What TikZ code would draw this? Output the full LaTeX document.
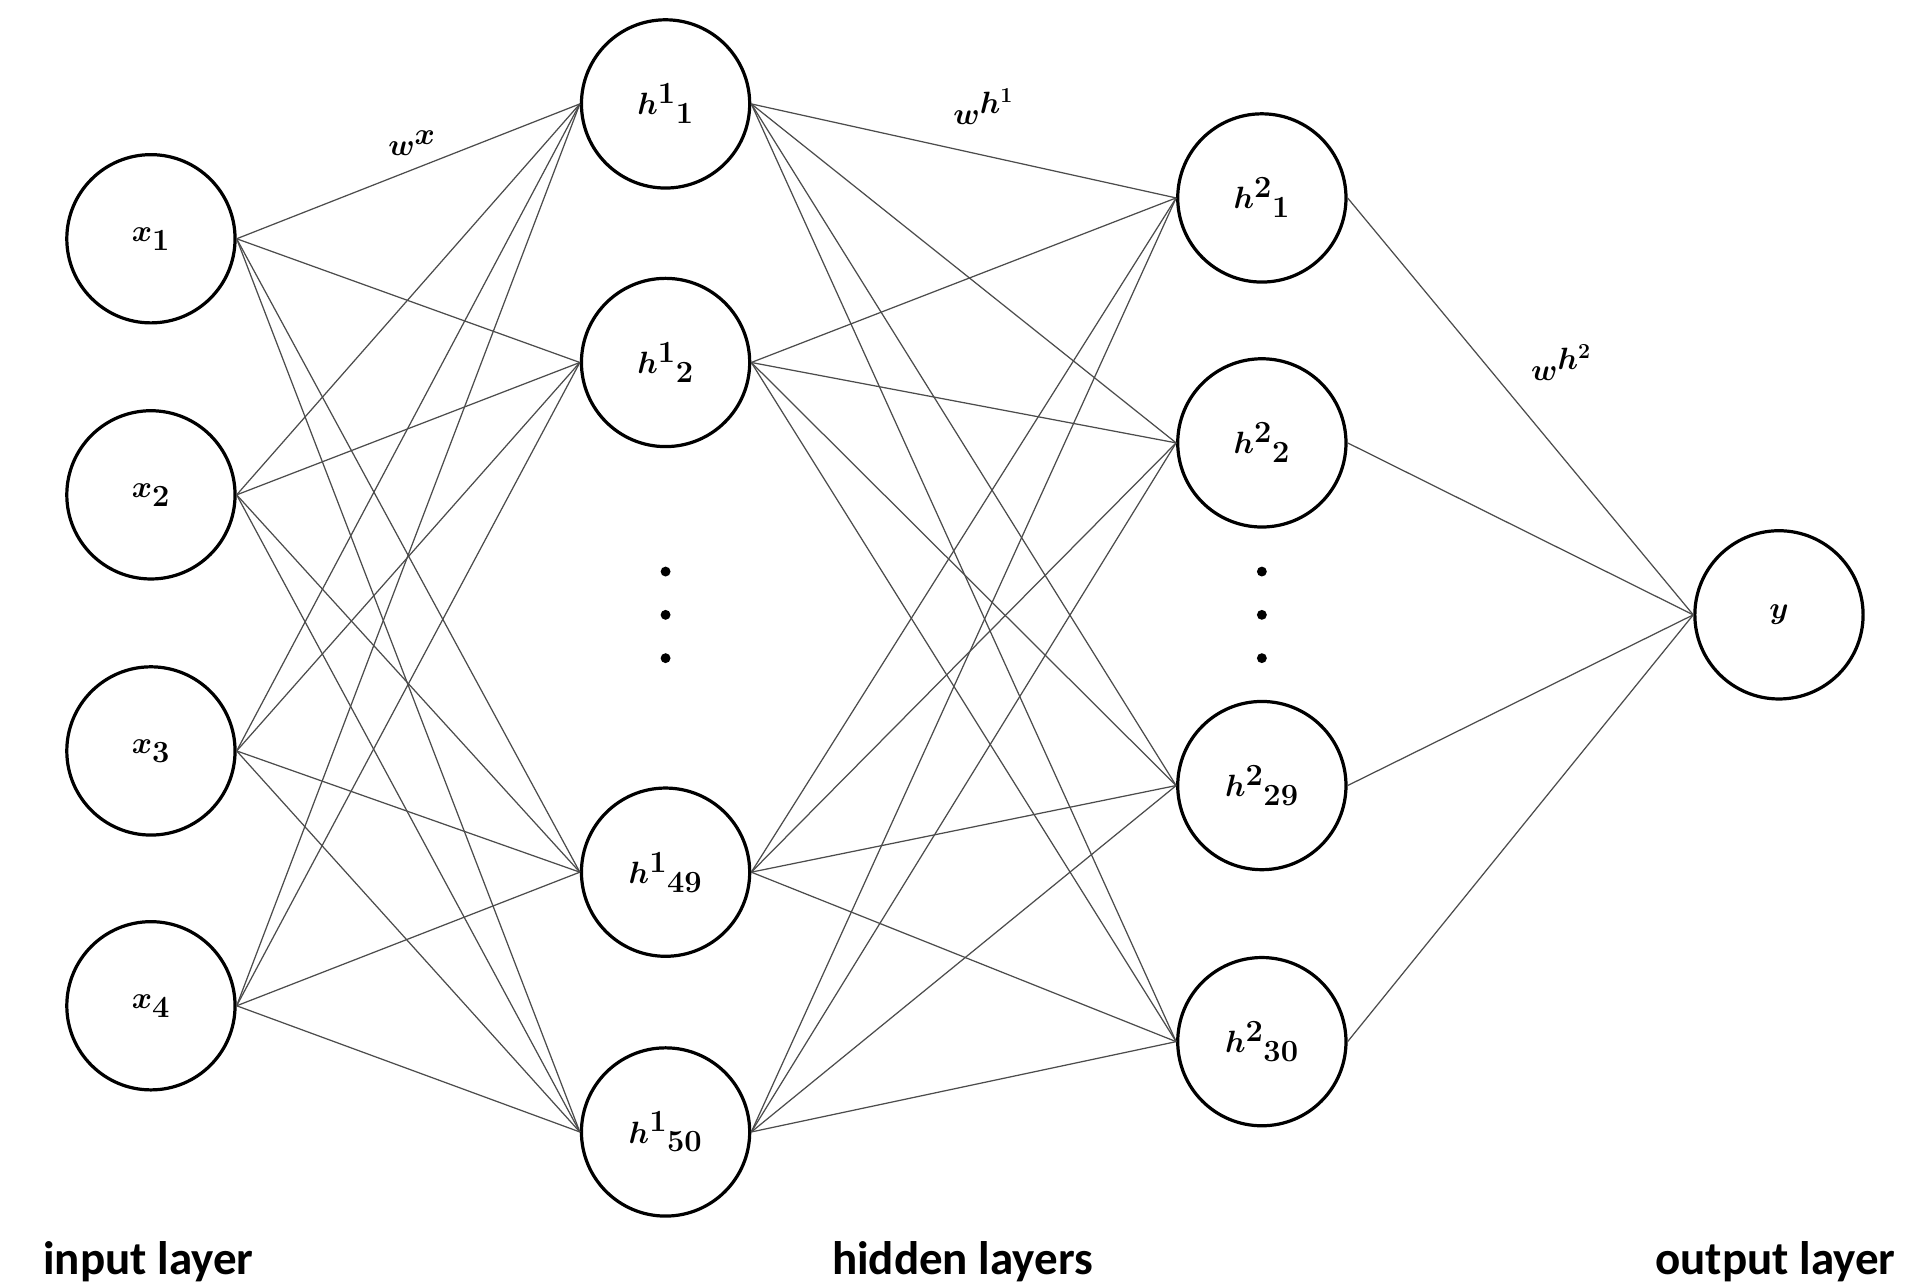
\documentclass[tikz,border=0pt]{standalone}
\usepackage{fontspec}
\usepackage{amsmath,bm}
\newfontfamily\lbl{Carlito}
\begin{document}
\begin{tikzpicture}[x=1pt,y=-1pt,
  neuron/.style={circle,draw,line width=2.6pt,minimum size=136pt,inner sep=0pt,font=\fontsize{44}{50}\selectfont\boldmath},
  conn/.style={draw=black!70,line width=1pt},
  dot/.style={circle,fill=black,minimum size=8pt,inner sep=0pt},
  wl/.style={font=\fontsize{36}{42}\selectfont\boldmath},
  layer/.style={font=\lbl\bfseries\fontsize{38}{44}\selectfont}]
\useasboundingbox (0,0) rectangle (1552,1038);
\foreach \n/\yy/\s in {x1/193/1,x2/400/2,x3/607/3,x4/813/4}
  \node[neuron] (\n) at (122,\yy) {$x_{\s}$};
\foreach \n/\yy/\s in {a1/84/1,a2/293/2,a49/705/49,a50/915/50}
  \node[neuron] (\n) at (538,\yy) {$h^{1}{}_{\s}$};
\foreach \n/\yy/\s in {b1/160/1,b2/358/2,b29/635/29,b30/842/30}
  \node[neuron] (\n) at (1020,\yy) {$h^{2}{}_{\s}$};
\node[neuron] (y) at (1438,497) {$y$};
\foreach \i/\yy in {1/462,2/497,3/532}{
  \node[dot] (da\i) at (538,\yy) {};
  \node[dot] (db\i) at (1020,\yy) {};}
\foreach \s in {x1,x2,x3,x4}
  \foreach \t in {a1,a2,a49,a50}
    \draw[conn] (\s.east) -- (\t.west);
\foreach \s in {a1,a2,a49,a50}
  \foreach \t in {b1,b2,b29,b30}
    \draw[conn] (\s.east) -- (\t.west);
\foreach \s in {b1,b2,b29,b30}
  \draw[conn] (\s.east) -- (y.west);
\node[wl] (wx) at (333,116) {$w^{x}$};
\node[wl] (wh1) at (795,86) {$w^{h^{1}}$};
\node[wl] (wh2) at (1262,293) {$w^{h^{2}}$};
\node[layer] (il) at (120,1020) {input layer};
\node[layer] (hl) at (778,1020) {hidden layers};
\node[layer] (ol) at (1435,1020) {output layer};
\end{tikzpicture}
\end{document}
